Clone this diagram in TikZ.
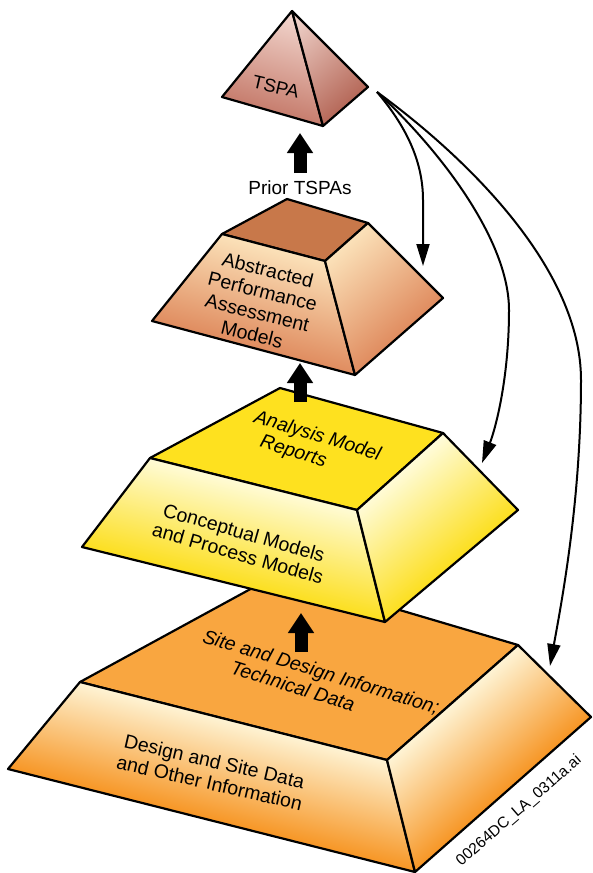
\documentclass[tikz,border=0pt]{standalone}
\usepackage{fontspec}
\setmainfont{Liberation Sans}
\usetikzlibrary{arrows.meta,calc}
\definecolor{dTop}{HTML}{F9A640}
\definecolor{dLight}{HTML}{FFFDE6}
\definecolor{dDark}{HTML}{F6901A}
\definecolor{yTop}{HTML}{FEE11F}
\definecolor{yLight}{HTML}{FFFEE8}
\definecolor{yDark}{HTML}{FCDD14}
\definecolor{aTop}{HTML}{C8784A}
\definecolor{aLight}{HTML}{FEEAC2}
\definecolor{aDark}{HTML}{DE875A}
\definecolor{tLight}{HTML}{F8E2DB}
\definecolor{tDark}{HTML}{C47868}
\definecolor{tDarker}{HTML}{B26252}
% clipped face with a gradient running from its base edge (dark) to its far side (light)
\newcommand\gradface[6]{%
  \begin{scope}
    \clip #1;
    \begin{scope}[transform canvas={rotate around={#3:#2}}]
      \shade[top color=#5, bottom color=#6] ($#2+(-80,6)$) rectangle ($#2+(600,-#4)$);
    \end{scope}
  \end{scope}
  \draw[edge] #1;
}
\begin{document}
\begin{tikzpicture}[x=1pt,y=-1pt,
  edge/.style={line width=2.2pt, line join=round, draw=black},
  blockarrow/.style={line width=13pt, -{Triangle[length=20pt,width=25pt]}},
  flowarrow/.style={line width=2pt, -{Triangle[length=22pt,width=13pt]}},
  lbl/.style={font=\fontsize{19.5}{22}\selectfont, align=center, inner sep=0pt},
  ilbl/.style={font=\fontsize{19.5}{22}\selectfont\itshape, align=left, inner sep=0pt},
]
\useasboundingbox (0,0) rectangle (592,873);

% ---------- corners ----------
\coordinate (dB) at (278,574);
\coordinate (dL) at (80,682);
\coordinate (dF) at (387,760);
\coordinate (dR) at (518,645);
\coordinate (dBL) at (8,769);
\coordinate (dBF) at (415,872);
\coordinate (dBR) at (591,717);

\coordinate (yB) at (280,388);
\coordinate (yL) at (150,458);
\coordinate (yF) at (357,510);
\coordinate (yR) at (443,433);
\coordinate (yBL) at (82,547);
\coordinate (yBF) at (385,622);
\coordinate (yBR) at (518,510);

\coordinate (aB) at (287,199);
\coordinate (aL) at (222,234);
\coordinate (aF) at (325,261);
\coordinate (aR) at (368,223);
\coordinate (aBL) at (152,321);
\coordinate (aBF) at (355,375);
\coordinate (aBR) at (443,298);

\coordinate (tA) at (292,11);
\coordinate (tL) at (222,97);
\coordinate (tF) at (323,126);
\coordinate (tR) at (368,87);

% arrow ends
\coordinate (b1s) at (300,173);
\coordinate (b1e) at (300,133);
\coordinate (b2s) at (300,402);
\coordinate (b2e) at (300,363);
\coordinate (b3s) at (301,652);
\coordinate (b3e) at (301,613);

\coordinate (src) at (377,92);
\coordinate (e1) at (423,266);
\coordinate (e2) at (482,463);
\coordinate (e3) at (550,666);

% ---------- bottom frustum ----------
\path[edge, fill=dTop] (dB) -- (dL) -- (dF) -- (dR) -- cycle;
\gradface{(dL) -- (dF) -- (dBF) -- (dBL) -- cycle}{(dBL)}{-14.2}{112}{dLight}{dDark}
\gradface{(dF) -- (dR) -- (dBR) -- (dBF) -- cycle}{(dBF)}{41.4}{112}{dLight}{dDark}
\node[ilbl, rotate=-17] (sdi) at (318,682) {Site and Design Information;\\\hspace*{36pt}Technical Data};
\node[lbl, rotate=-13] (dsd) at (212,772) {Design and Site Data\\and Other Information};
\draw[blockarrow] (b3s) -- (b3e);

% ---------- analysis frustum ----------
\path[edge, fill=yTop] (yB) -- (yL) -- (yF) -- (yR) -- cycle;
\gradface{(yL) -- (yF) -- (yBF) -- (yBL) -- cycle}{(yBL)}{-13.9}{112}{yLight}{yDark}
\gradface{(yF) -- (yR) -- (yBR) -- (yBF) -- cycle}{(yBF)}{40.1}{114}{yLight}{yDark}
\node[ilbl, rotate=-17] (amr) at (314,447) {Analysis Model\\\hspace*{13pt}Reports};
\node[lbl, rotate=-16] (cpm) at (241,543) {Conceptual Models\\and Process Models};
\draw[blockarrow] (b2s) -- (b2e);

% ---------- abstracted frustum ----------
\path[edge, fill=aTop] (aB) -- (aL) -- (aF) -- (aR) -- cycle;
\gradface{(aL) -- (aF) -- (aBF) -- (aBL) -- cycle}{(aBL)}{-14.9}{112}{aLight}{aDark}
\gradface{(aF) -- (aR) -- (aBR) -- (aBF) -- cycle}{(aBF)}{41.2}{116}{aLight}{aDark}
\node[lbl, rotate=-14] (apam) at (260,302) {Abstracted\\Performance\\Assessment\\Models};
\draw[blockarrow] (b1s) -- (b1e);
\node[font=\fontsize{19}{22}\selectfont, inner sep=0pt] (prior) at (300,188) {Prior TSPAs};

% ---------- TSPA pyramid ----------
\gradface{(tA) -- (tL) -- (tF) -- cycle}{(tL)}{-16}{112}{tLight}{tDark}
\gradface{(tA) -- (tF) -- (tR) -- cycle}{(tF)}{40.9}{115}{tLight}{tDarker}
\node[font=\fontsize{18.5}{20}\selectfont, rotate=-13, inner sep=0pt] (tspa) at (276,87) {TSPA};

% ---------- feedback arrows ----------
\draw[flowarrow] (src) .. controls (405,125) and (423,160) .. (423,200) -- (e1);
\draw[flowarrow] (src) .. controls (440,150) and (509,240) .. (509,310) .. controls (509,380) and (495,430) .. (e2);
\draw[flowarrow] (src) .. controls (470,160) and (581,270) .. (581,380) .. controls (581,500) and (562,600) .. (e3);

% ---------- file tag ----------
\node[font=\fontsize{15.5}{17}\selectfont, rotate=41, inner sep=0pt] (wm) at (519,811) {00264DC\_LA\_0311a.ai};
\end{tikzpicture}
\end{document}
